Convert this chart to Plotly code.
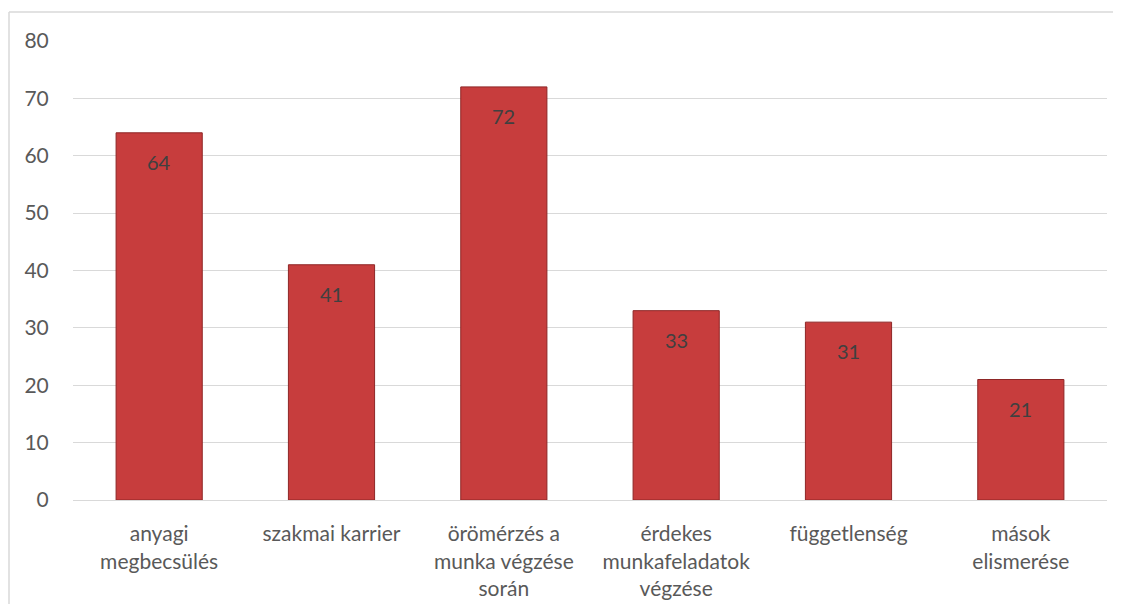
import plotly.graph_objects as go

categories = ["anyagi<br>megbecsülés", "szakmai karrier", "örömérzés a<br>munka végzése<br>során",
              "érdekes<br>munkafeladatok<br>végzése", "függetlenség", "mások<br>elismerése"]
values = [64, 41, 72, 33, 31, 21]
y_ticks = [0, 10, 20, 30, 40, 50, 60, 70, 80]

FONT = "Lato, 'Open Sans', sans-serif"

# figure is drawn with an 8px page margin; plot area in figure coords
L, T, R, B = 65, 33, 6, 104
W, H = 1105, 596
PW, PH = W - L - R, H - T - B

fig = go.Figure()
fig.add_trace(go.Bar(
    x=categories, y=values,
    marker=dict(color="#c73d3d", line=dict(color="#8e2626", width=1)),
    hoverinfo="x+y",
))

for c, v in zip(categories, values):
    fig.add_annotation(x=c, y=v, text=str(v), showarrow=False, yanchor="middle", yshift=-29,
                       font=dict(family=FONT, size=20, color="#404040"))

bx0 = (1 - L) / PW
bx1 = (W + 40 - L) / PW
by_top = (T + PH - 4) / PH
by_bot = -(H + 40 - T - PH) / PH
border = dict(color="#d9d9d9", width=1.5)

fig.update_layout(
    width=W, height=H,
    margin=dict(l=L, r=R, t=T, b=B, autoexpand=False),
    paper_bgcolor="white", plot_bgcolor="white",
    bargap=0.5, showlegend=False,
    font=dict(family=FONT, size=21, color="#595959"),
    xaxis=dict(showgrid=False, showline=False, ticks="outside", ticklen=15,
               tickcolor="rgba(0,0,0,0)", tickfont=dict(size=21, color="#595959")),
    yaxis=dict(range=[0, 80], tickvals=y_ticks, showgrid=True, gridcolor="#d9d9d9", gridwidth=1,
               zeroline=True, zerolinecolor="#d9d9d9", zerolinewidth=1,
               ticks="outside", ticklen=19, tickcolor="rgba(0,0,0,0)",
               tickfont=dict(size=21, color="#595959")),
    shapes=[
        dict(type="line", xref="paper", yref="paper", x0=bx0, x1=bx1, y0=by_top, y1=by_top,
             line=border, layer="below"),
        dict(type="line", xref="paper", yref="paper", x0=bx0, x1=bx0, y0=by_bot, y1=by_top,
             line=border, layer="below"),
    ],
)

fig.write_html("out.html")
